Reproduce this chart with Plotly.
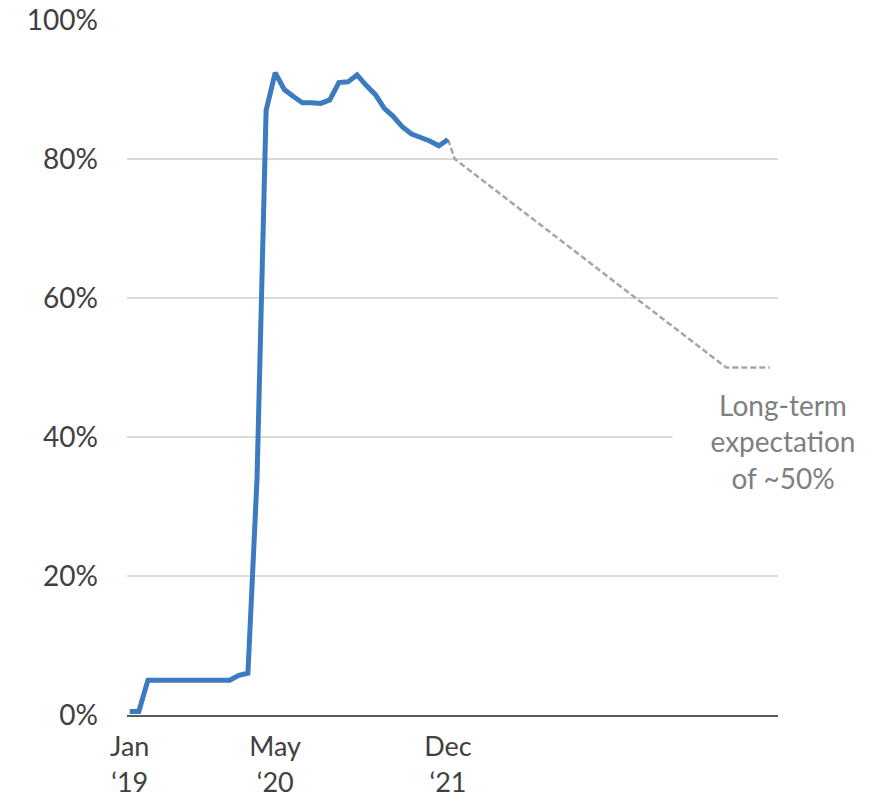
import plotly.graph_objects as go

# Monthly share (%) from Jan 2019 to Dec 2021; x is months since Jan 2019
MONTHS = list(range(36))
SHARE = [0.5, 0.5, 5, 5, 5, 5, 5, 5, 5, 5, 5, 5,
         5.7, 6.0, 34, 87, 92.4, 90.0, 89.0, 88.1, 88.1, 88.0, 88.5, 91.0,
         91.1, 92.1, 90.6, 89.3, 87.3, 86.1, 84.6, 83.6, 83.1, 82.6, 81.9, 82.8]

# Projected path toward the long-term level
PROJ_MONTHS = [35, 35.75, 65.6, 70.4]
PROJ_SHARE = [82.8, 80, 50, 50]

TICK_MONTHS = [0, 16, 35]
TICK_TEXT = ["Jan<br>\u201819", "May<br>\u201820", "Dec<br>\u201821"]
Y_TICKS = [0, 20, 40, 60, 80, 100]
Y_TEXT = ["0%", "20%", "40%", "60%", "80%", "100%"]

FONT = "Lato, 'Open Sans', sans-serif"
TEXT_COLOR = "#404040"

fig = go.Figure()
fig.add_trace(go.Scatter(
    x=PROJ_MONTHS, y=PROJ_SHARE, mode="lines",
    line=dict(color="#a6a6a6", width=2.5, dash="6px,3px"),
    hoverinfo="skip", showlegend=False,
))
fig.add_trace(go.Scatter(
    x=MONTHS, y=SHARE, mode="lines",
    line=dict(color="#3c7bbf", width=5),
    showlegend=False,
))

fig.add_annotation(
    xref="paper", yref="y", x=1.0077, y=39.3,
    text="Long-term<br>expectation<br>of ~50%",
    showarrow=False, align="center", xanchor="center", yanchor="middle",
    font=dict(family=FONT, size=28, color="#7f7f7f"),
    bgcolor="white", width=220, borderpad=0,
)

fig.update_layout(
    width=887, height=800,
    margin=dict(l=127, r=109, t=20, b=85),
    plot_bgcolor="white", paper_bgcolor="white",
    font=dict(family=FONT, size=28, color=TEXT_COLOR),
    xaxis=dict(
        range=[-0.3, 71.3], tickvals=TICK_MONTHS, ticktext=TICK_TEXT,
        showgrid=False, zeroline=False, automargin=False,
        showline=True, linecolor="#595959", linewidth=2,
        ticks="", ticklabelstandoff=7,
        tickfont=dict(family=FONT, size=27, color=TEXT_COLOR),
    ),
    yaxis=dict(
        range=[0, 100], tickvals=Y_TICKS, ticktext=Y_TEXT,
        showgrid=True, gridcolor="#d9d9d9", gridwidth=2,
        zeroline=False, showline=False, ticks="", automargin=False,
        ticklabelstandoff=28,
        tickfont=dict(family=FONT, size=28, color=TEXT_COLOR),
    ),
)

fig.write_html("out.html")
